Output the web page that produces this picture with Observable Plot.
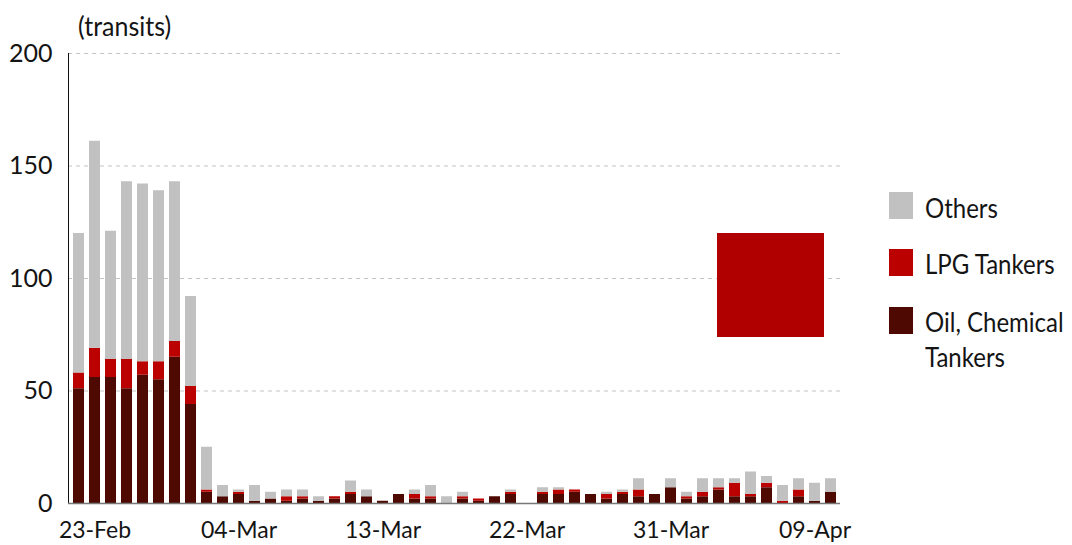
<!DOCTYPE html>
<html>
<head>
<meta charset="utf-8">
<script src="https://cdn.jsdelivr.net/npm/d3@7"></script>
<script src="https://cdn.jsdelivr.net/npm/@observablehq/plot@0.6"></script>
<style>
  html, body { margin: 0; padding: 0; background: #fff; }
  #wrap { position: relative; width: 1072px; height: 545px; font-family: Lato, "Open Sans", sans-serif; color: #141414; overflow: hidden; }
  #chart { position: absolute; left: 0; top: 0; }
  .unit { position: absolute; left: 78px; top: 10px; font-size: 25px; line-height: 30px; transform: scaleY(1.1); transform-origin: left center; }
  .legend { position: absolute; left: 889px; top: 0; width: 183px; height: 545px; }
  .sw { position: absolute; left: 0; width: 24px; height: 27px; }
  .lab { position: absolute; left: 36px; font-size: 24px; line-height: 32px; white-space: nowrap; transform: scaleY(1.1); transform-origin: left top; }
  .blob { position: absolute; left: 717px; top: 233px; width: 107px; height: 104px; background: #b00000; }
</style>
</head>
<body>
<div id="wrap">
  <div id="chart"></div>
  <div class="unit">(transits)</div>
  <div class="blob"></div>
  <div class="legend" id="legend"></div>
</div>
<script>
// Daily transits, 22-Feb to 10-Apr
const dates = [
  "22-Feb","23-Feb","24-Feb","25-Feb","26-Feb","27-Feb","28-Feb","01-Mar","02-Mar","03-Mar",
  "04-Mar","05-Mar","06-Mar","07-Mar","08-Mar","09-Mar","10-Mar","11-Mar","12-Mar","13-Mar",
  "14-Mar","15-Mar","16-Mar","17-Mar","18-Mar","19-Mar","20-Mar","21-Mar","22-Mar","23-Mar",
  "24-Mar","25-Mar","26-Mar","27-Mar","28-Mar","29-Mar","30-Mar","31-Mar","01-Apr","02-Apr",
  "03-Apr","04-Apr","05-Apr","06-Apr","07-Apr","08-Apr","09-Apr","10-Apr"
];
const oilChem = [51,56,56,51,57,55,65,44,5,3, 4,1,2,1,2,1,2,4,3,1, 4,2,2,0,2,1,3,4,0,4, 4,5,4,2,4,3,4,7,2,3, 6,3,3,7,0,3,1,5];
const lpg     = [7,13,8,13,6,8,7,8,1,0, 1,0,0,2,1,0,1,1,0,0, 0,2,1,0,1,1,0,1,0,1, 2,1,0,2,1,3,0,0,1,2, 1,6,1,2,1,3,0,0];
const others  = [62,92,57,79,79,76,71,40,19,5, 1,7,3,3,3,2,0,5,3,0, 0,2,5,3,2,0,0,1,0,2, 1,0,0,1,1,5,0,4,2,6, 4,2,10,3,7,5,8,6];
const tickDates = ["23-Feb","04-Mar","13-Mar","22-Mar","31-Mar","09-Apr"];
const yTicks = [0,50,100,150,200];
const series = ["Oil, Chemical Tankers","LPG Tankers","Others"];
const colors = ["#4e0a02","#bb0000","#c1c1c1"];

const tidy = [];
dates.forEach((d, i) => {
  tidy.push({date: d, type: series[0], value: oilChem[i]});
  tidy.push({date: d, type: series[1], value: lpg[i]});
  tidy.push({date: d, type: series[2], value: others[i]});
});

const chart = Plot.plot({
  width: 1072,
  height: 545,
  marginTop: 53,
  marginBottom: 42,
  marginLeft: 68,
  marginRight: 232,
  style: {fontFamily: "Lato, 'Open Sans', sans-serif", color: "#141414", background: "transparent"},
  x: {type: "band", domain: dates, paddingInner: 0.33, paddingOuter: 0, label: null},
  y: {domain: [0, 200], label: null},
  color: {domain: series, range: colors},
  marks: [
    Plot.gridY(yTicks.slice(1), {stroke: "#c4c4c4", strokeOpacity: 1, strokeDasharray: "4,4"}),
    Plot.axisY(yTicks, {tickSize: 0, tickPadding: 16, fontSize: 25, label: null}),
    Plot.axisX(tickDates, {tickSize: 0, tickPadding: 18, fontSize: 23, label: null}),
    Plot.frame({anchor: "left", stroke: "#111"}),
    Plot.barY(tidy, {x: "date", y: "value", fill: "type"}),
    Plot.ruleY([0], {stroke: "#777", strokeWidth: 1.5})
  ]
});
document.getElementById("chart").appendChild(chart);

// Legend
const legendItems = [
  {label: "Others", color: colors[2], sw: 192, txt: 190},
  {label: "LPG Tankers", color: colors[1], sw: 249, txt: 246},
  {label: "Oil, Chemical<br>Tankers", color: colors[0], sw: 307, txt: 304}
];
const lg = document.getElementById("legend");
legendItems.forEach(it => {
  const sw = document.createElement("div");
  sw.className = "sw";
  sw.style.top = it.sw + "px";
  sw.style.background = it.color;
  lg.appendChild(sw);
  const lab = document.createElement("div");
  lab.className = "lab";
  lab.style.top = it.txt + "px";
  lab.innerHTML = it.label;
  lg.appendChild(lab);
});
</script>
</body>
</html>
